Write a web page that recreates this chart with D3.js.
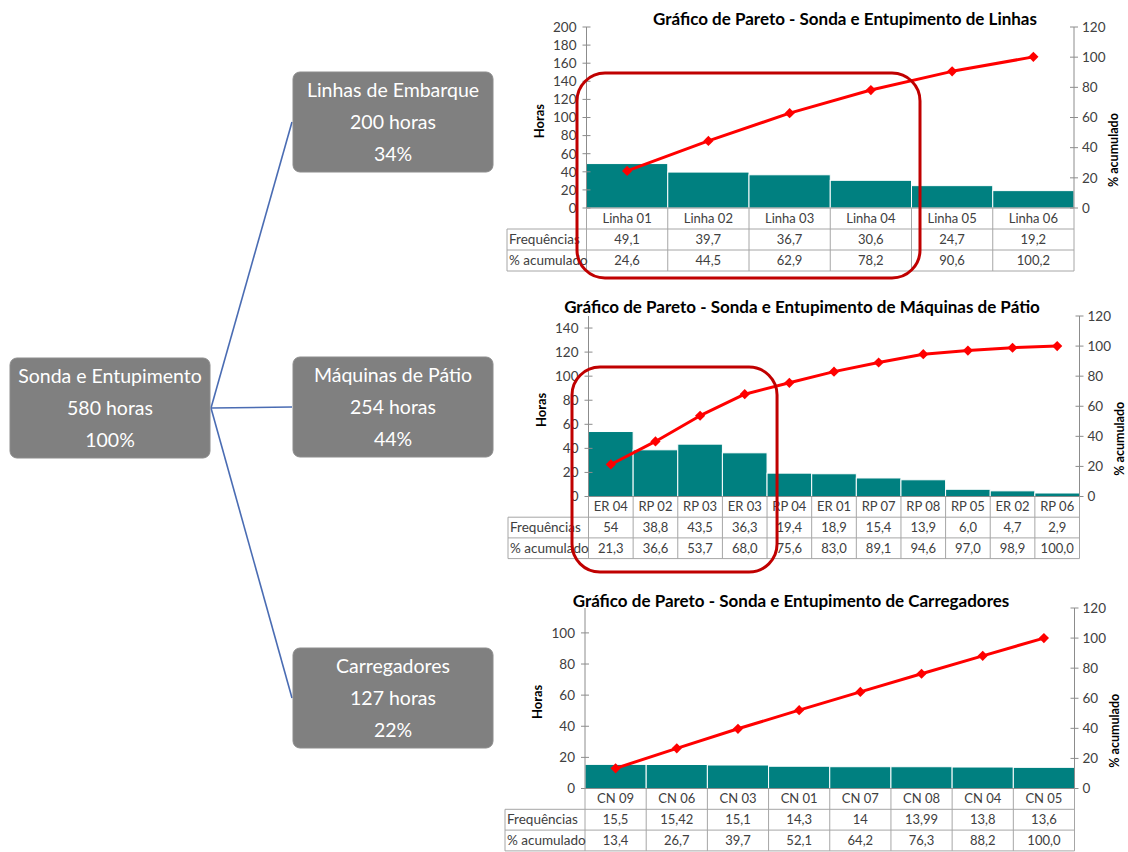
<!DOCTYPE html>
<html>
<head>
<meta charset="utf-8">
<script src="https://cdn.jsdelivr.net/npm/d3@7"></script>
<style>
  body { margin: 0; background: #fff; }
  svg { display: block; font-family: Lato, "Open Sans", sans-serif; }
</style>
</head>
<body>
<svg id="fig" width="1128" height="852"></svg>
<script>
// ---------- breakdown tree ----------
const rootLabel = "Sonda e Entupimento";
const rootHoras = 580;
const rootPct = 100;
const groupLabels = ["Linhas de Embarque", "Máquinas de Pátio", "Carregadores"];
const groupHoras = [200, 254, 127];
const groupPct = [34, 44, 22];

// ---------- Pareto: Linhas ----------
const linhasTitle = "Gráfico de Pareto - Sonda e Entupimento de Linhas";
const linhasCats = ["Linha 01", "Linha 02", "Linha 03", "Linha 04", "Linha 05", "Linha 06"];
const linhasFreq = ["49,1", "39,7", "36,7", "30,6", "24,7", "19,2"];
const linhasAcum = ["24,6", "44,5", "62,9", "78,2", "90,6", "100,2"];
const linhasHorasTicks = [0, 20, 40, 60, 80, 100, 120, 140, 160, 180, 200];
const linhasHorasMax = 200;

// ---------- Pareto: Máquinas de Pátio ----------
const maquinasTitle = "Gráfico de Pareto - Sonda e Entupimento de Máquinas de Pátio";
const maquinasCats = ["ER 04", "RP 02", "RP 03", "ER 03", "RP 04", "ER 01", "RP 07", "RP 08", "RP 05", "ER 02", "RP 06"];
const maquinasFreq = ["54", "38,8", "43,5", "36,3", "19,4", "18,9", "15,4", "13,9", "6,0", "4,7", "2,9"];
const maquinasAcum = ["21,3", "36,6", "53,7", "68,0", "75,6", "83,0", "89,1", "94,6", "97,0", "98,9", "100,0"];
const maquinasHorasTicks = [0, 20, 40, 60, 80, 100, 120, 140];
const maquinasHorasMax = 150;

// ---------- Pareto: Carregadores ----------
const carregTitle = "Gráfico de Pareto - Sonda e Entupimento de Carregadores";
const carregCats = ["CN 09", "CN 06", "CN 03", "CN 01", "CN 07", "CN 08", "CN 04", "CN 05"];
const carregFreq = ["15,5", "15,42", "15,1", "14,3", "14", "13,99", "13,8", "13,6"];
const carregAcum = ["13,4", "26,7", "39,7", "52,1", "64,2", "76,3", "88,2", "100,0"];
const carregHorasTicks = [0, 20, 40, 60, 80, 100];
const carregHorasMax = 116;

// shared right axis
const acumTicks = [0, 20, 40, 60, 80, 100, 120];
const acumMax = 120;
const rowHeaders = ["Frequências", "% acumulado"];

// Values in the tables use a decimal comma
const num = s => +String(s).replace(",", ".");

const svg = d3.select("#fig");

// ---------- tree drawing ----------
const BOX_W = 200, BOX_H = 100;
const root = { x: 10, y: 358, lines: [rootLabel, rootHoras + " horas", rootPct + "%"] };
const groupTops = [72, 357, 648];
const groups = groupLabels.map((g, i) => ({
  x: 293, y: groupTops[i], lines: [g, groupHoras[i] + " horas", groupPct[i] + "%"]
}));

const links = svg.append("g");
groups.forEach(g => {
  links.append("line")
    .attr("x1", root.x + BOX_W + 1).attr("y1", root.y + BOX_H / 2)
    .attr("x2", g.x - 1).attr("y2", g.y + BOX_H / 2)
    .attr("stroke", "#4a6cb3").attr("stroke-width", 1.6);
});

function drawBox(b) {
  const g = svg.append("g").attr("transform", `translate(${b.x},${b.y})`);
  g.append("rect").attr("width", BOX_W).attr("height", BOX_H)
    .attr("rx", 7).attr("fill", "#808080").attr("stroke", "#8c8c8c");
  g.selectAll("text").data(b.lines).join("text")
    .attr("x", BOX_W / 2).attr("y", (d, i) => 25 + i * 32)
    .attr("text-anchor", "middle").attr("fill", "#fff")
    .attr("font-size", 19.5).text(d => d);
}
drawBox(root);
groups.forEach(drawBox);

// ---------- Pareto charts ----------
const charts = [
  { title: linhasTitle, cats: linhasCats, freq: linhasFreq, acum: linhasAcum,
    horasTicks: linhasHorasTicks, horasMax: linhasHorasMax,
    left: 586.5, right: 1074, top: 27, bottom: 208, tableLeft: 507, rowH: 21,
    titleX: 845, titleY: 25,
    highlight: { n: 4, padL: 9.5, padR: 8.5, top: 46, bottom: 7 } },
  { title: maquinasTitle, cats: maquinasCats, freq: maquinasFreq, acum: maquinasAcum,
    horasTicks: maquinasHorasTicks, horasMax: maquinasHorasMax,
    left: 588.5, right: 1079.5, top: 316, bottom: 496.5, tableLeft: 508, rowH: 20.7,
    titleX: 802, titleY: 313,
    highlight: { n: 4, padL: 16.5, padR: 10, top: 51, bottom: 13.5 } },
  { title: carregTitle, cats: carregCats, freq: carregFreq, acum: carregAcum,
    horasTicks: carregHorasTicks, horasMax: carregHorasMax,
    left: 585, right: 1074.5, top: 608, bottom: 788.5, tableLeft: 505, rowH: 20.8,
    titleX: 791, titleY: 607,
    highlight: null }
];

const AXIS = "#8c8c8c", GRID = "#a6a6a6", TXT = "#404040";

charts.forEach(c => {
  const g = svg.append("g");
  const x = d3.scaleBand().domain(c.cats).range([c.left, c.right]).padding(0);
  const yL = d3.scaleLinear().domain([0, c.horasMax]).range([c.bottom, c.top]);
  const yR = d3.scaleLinear().domain([0, acumMax]).range([c.bottom, c.top]);
  const bw = x.bandwidth();
  const tableBottom = c.bottom + 3 * c.rowH;

  // title
  g.append("text").attr("x", c.titleX).attr("y", c.titleY)
    .attr("text-anchor", "middle").attr("font-weight", "bold")
    .attr("font-size", 17).attr("fill", "#000").text(c.title);

  // bars
  g.selectAll("rect.bar").data(c.cats).join("rect").attr("class", "bar")
    .attr("x", d => x(d)).attr("width", bw)
    .attr("y", (d, i) => yL(num(c.freq[i])))
    .attr("height", (d, i) => c.bottom - yL(num(c.freq[i])))
    .attr("fill", "#008080").attr("stroke", "#ffffff").attr("stroke-width", 1);

  // left axis
  const la = g.append("g").attr("transform", `translate(${c.left},0)`)
    .call(d3.axisLeft(yL).tickValues(c.horasTicks).tickSize(0).tickPadding(10));
  la.select(".domain").remove();
  la.selectAll("text").attr("font-size", 13.5).attr("fill", TXT).attr("font-family", "Lato, sans-serif");
  g.append("line").attr("x1", c.left).attr("x2", c.left).attr("y1", c.top).attr("y2", c.bottom)
    .attr("stroke", AXIS);
  g.selectAll("line.lt").data(c.horasTicks).join("line").attr("class", "lt")
    .attr("x1", c.left - 4).attr("x2", c.left + 4)
    .attr("y1", d => yL(d)).attr("y2", d => yL(d)).attr("stroke", AXIS);

  // right axis
  const ra = g.append("g").attr("transform", `translate(${c.right},0)`)
    .call(d3.axisRight(yR).tickValues(acumTicks).tickSize(0).tickPadding(8));
  ra.select(".domain").remove();
  ra.selectAll("text").attr("font-size", 13.5).attr("fill", TXT).attr("font-family", "Lato, sans-serif");
  g.append("line").attr("x1", c.right).attr("x2", c.right).attr("y1", c.top).attr("y2", c.bottom)
    .attr("stroke", AXIS);
  g.selectAll("line.rt").data(acumTicks).join("line").attr("class", "rt")
    .attr("x1", c.right - 4).attr("x2", c.right + 4)
    .attr("y1", d => yR(d)).attr("y2", d => yR(d)).attr("stroke", AXIS);

  // axis titles
  const h = c.bottom - c.top;
  g.append("text")
    .attr("transform", `translate(${c.left - 43},${c.top + h * 0.52}) rotate(-90)`)
    .attr("text-anchor", "middle").attr("font-weight", "bold").attr("font-size", 13)
    .attr("fill", "#000").text("Horas");
  g.append("text")
    .attr("transform", `translate(${c.right + 44},${c.top + h * 0.68}) rotate(-90)`)
    .attr("text-anchor", "middle").attr("font-weight", "bold").attr("font-size", 12.5)
    .attr("fill", "#000").text("% acumulado");

  // data table under the plot
  const t = g.append("g");
  // x axis line
  t.append("line").attr("x1", c.left).attr("x2", c.right).attr("y1", c.bottom).attr("y2", c.bottom)
    .attr("stroke", AXIS);
  // horizontal rules
  [1, 2, 3].forEach(r => {
    t.append("line").attr("x1", c.tableLeft).attr("x2", c.right)
      .attr("y1", c.bottom + r * c.rowH).attr("y2", c.bottom + r * c.rowH).attr("stroke", GRID);
  });
  // vertical rules
  const edges = c.cats.map(d => x(d)).concat([c.right]);
  t.selectAll("line.v").data(edges).join("line").attr("class", "v")
    .attr("x1", d => d).attr("x2", d => d)
    .attr("y1", c.bottom).attr("y2", tableBottom).attr("stroke", GRID);
  t.append("line").attr("x1", c.tableLeft).attr("x2", c.tableLeft)
    .attr("y1", c.bottom + c.rowH).attr("y2", tableBottom).attr("stroke", GRID);

  const cellY = r => c.bottom + (r + 0.5) * c.rowH + 4.5;
  t.selectAll("text.cat").data(c.cats).join("text").attr("class", "cat")
    .attr("x", d => x(d) + bw / 2).attr("y", cellY(0))
    .attr("text-anchor", "middle").attr("font-size", 13).attr("fill", TXT).text(d => d);
  t.selectAll("text.fq").data(c.freq).join("text").attr("class", "fq")
    .attr("x", (d, i) => x(c.cats[i]) + bw / 2).attr("y", cellY(1))
    .attr("text-anchor", "middle").attr("font-size", 13).attr("fill", TXT).text(d => d);
  t.selectAll("text.ac").data(c.acum).join("text").attr("class", "ac")
    .attr("x", (d, i) => x(c.cats[i]) + bw / 2).attr("y", cellY(2))
    .attr("text-anchor", "middle").attr("font-size", 13).attr("fill", TXT).text(d => d);
  t.selectAll("text.rh").data(rowHeaders).join("text").attr("class", "rh")
    .attr("x", c.tableLeft + 2).attr("y", (d, i) => cellY(i + 1))
    .attr("font-size", 13.5).attr("fill", TXT).text(d => d);

  // cumulative line with diamond markers
  const pts = c.cats.map((d, i) => [x(d) + bw / 2, yR(num(c.acum[i]))]);
  g.append("path").attr("d", d3.line()(pts))
    .attr("fill", "none").attr("stroke", "#ff0000").attr("stroke-width", 3)
    .attr("stroke-linejoin", "round");
  g.selectAll("path.mk").data(pts).join("path").attr("class", "mk")
    .attr("d", d3.symbol(d3.symbolSquare, 52)())
    .attr("transform", d => `translate(${d[0]},${d[1]}) rotate(45)`)
    .attr("fill", "#ff0000");

  // highlight frame around the leading categories
  if (c.highlight) {
    const hl = c.highlight;
    const x0 = x(c.cats[0]) - hl.padL;
    const x1 = x(c.cats[hl.n - 1]) + bw + hl.padR;
    const y0 = c.top + hl.top;
    const y1 = tableBottom + hl.bottom;
    g.append("rect").attr("x", x0).attr("y", y0)
      .attr("width", x1 - x0).attr("height", y1 - y0)
      .attr("rx", 28).attr("fill", "none")
      .attr("stroke", "#c00000").attr("stroke-width", 3);
  }
});
</script>
</body>
</html>
